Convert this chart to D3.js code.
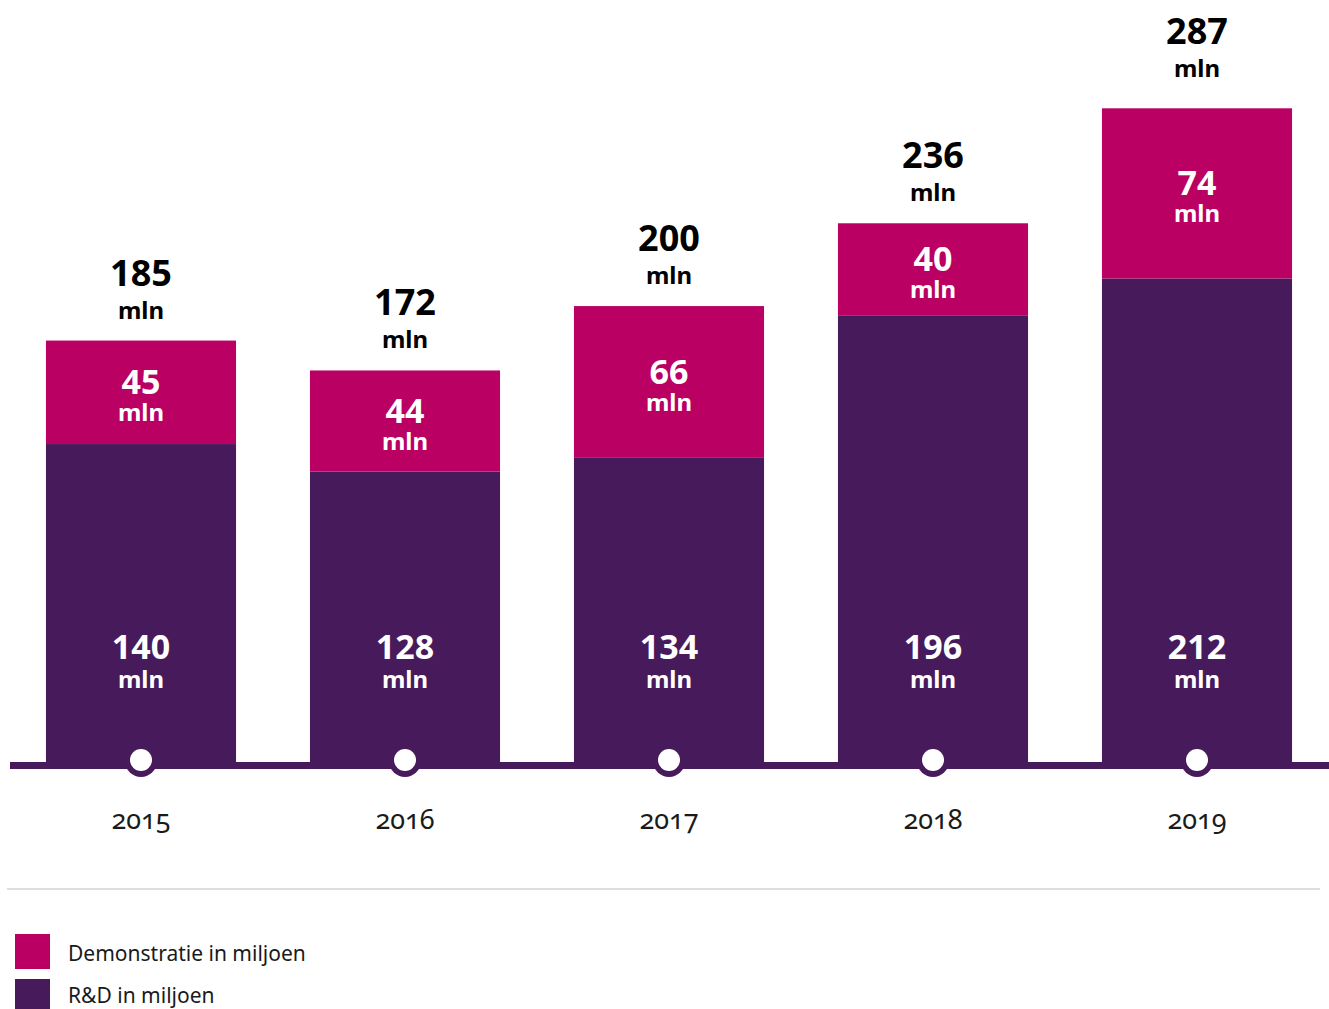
<!DOCTYPE html>
<html>
<head>
<meta charset="utf-8">
<script src="https://cdn.jsdelivr.net/npm/d3@7"></script>
<style>
  body { margin: 0; background: #fff; }
  text { font-family: "Noto Sans", "Open Sans", sans-serif; }
</style>
</head>
<body>
<div id="vizDiv"></div>
<script>
var width = 1329
var height = 1009

var years = ["2015", "2016", "2017", "2018", "2019"]
var rdValues = [140, 128, 134, 196, 212]
var demoValues = [45, 44, 66, 40, 74]
var totals = [185, 172, 200, 236, 287]
var legendLabels = ["Demonstratie in miljoen", "R&D in miljoen"]

var demoColor = "#ba0063"
var rdColor = "#461a5b"

var baseline = 766

var svg = d3.select("#vizDiv")
  .append("svg")
  .attr("width", width)
  .attr("height", height)

var x = d3.scaleBand()
  .domain(years)
  .range([9, 1329])
  .paddingInner(0.28)
  .paddingOuter(0.14)

var y = d3.scaleLinear()
  .domain([0, 287])
  .range([baseline, 106])

// R&D segments
svg.selectAll(".rd")
  .data(years)
  .enter().append("rect")
  .attr("x", d => x(d))
  .attr("width", x.bandwidth())
  .attr("y", (d, i) => y(rdValues[i]))
  .attr("height", (d, i) => baseline - y(rdValues[i]))
  .attr("fill", rdColor)

// demonstratie segments
svg.selectAll(".demo")
  .data(years)
  .enter().append("rect")
  .attr("x", d => x(d))
  .attr("width", x.bandwidth())
  .attr("y", (d, i) => y(rdValues[i] + demoValues[i]))
  .attr("height", (d, i) => y(rdValues[i]) - y(rdValues[i] + demoValues[i]))
  .attr("fill", demoColor)

// axis line
svg.append("line")
  .attr("x1", 10).attr("x2", 1329)
  .attr("y1", 765.5).attr("y2", 765.5)
  .attr("stroke", rdColor)
  .attr("stroke-width", 7)

// tick markers + year labels
years.forEach(function(d) {
  var cx = x(d) + x.bandwidth() / 2
  svg.append("circle").attr("cx", cx).attr("cy", 761).attr("r", 16).attr("fill", rdColor)
  svg.append("circle").attr("cx", cx).attr("cy", 760).attr("r", 11).attr("fill", "#fff")
  svg.append("text")
    .attr("x", cx).attr("y", 829)
    .attr("text-anchor", "middle")
    .style("font-size", "27px")
    .style("font-variant-numeric", "oldstyle-nums")
    .style("font-feature-settings", "'onum' 1")
    .attr("fill", "#1a1a1a")
    .text(d)
})

// value labels
years.forEach(function(d, i) {
  var cx = x(d) + x.bandwidth() / 2
  var top = y(totals[i])
  var extra = i == 4 ? 7 : 0
  svg.append("text").attr("x", cx).attr("y", top - 55 - extra)
    .attr("text-anchor", "middle").style("font-size", "36px").style("font-weight", "bold")
    .attr("fill", "#000").text(totals[i])
  svg.append("text").attr("x", cx).attr("y", top - 22 - extra)
    .attr("text-anchor", "middle").style("font-size", "24px").style("font-weight", "bold")
    .attr("fill", "#000").text("mln")

  var mid = (y(rdValues[i] + demoValues[i]) + y(rdValues[i])) / 2 + 4
  svg.append("text").attr("x", cx).attr("y", mid - 2)
    .attr("text-anchor", "middle").style("font-size", "34px").style("font-weight", "bold")
    .attr("fill", "#fff").text(demoValues[i])
  svg.append("text").attr("x", cx).attr("y", mid + 25)
    .attr("text-anchor", "middle").style("font-size", "24px").style("font-weight", "bold")
    .attr("fill", "#fff").text("mln")

  svg.append("text").attr("x", cx).attr("y", 659)
    .attr("text-anchor", "middle").style("font-size", "34px").style("font-weight", "bold")
    .attr("fill", "#fff").text(rdValues[i])
  svg.append("text").attr("x", cx).attr("y", 688)
    .attr("text-anchor", "middle").style("font-size", "24px").style("font-weight", "bold")
    .attr("fill", "#fff").text("mln")
})

// separator
svg.append("line")
  .attr("x1", 7).attr("x2", 1320)
  .attr("y1", 889).attr("y2", 889)
  .attr("stroke", "#dddddd")
  .attr("stroke-width", 2)

// legend
var legendColors = [demoColor, rdColor]
legendLabels.forEach(function(l, i) {
  svg.append("rect").attr("x", 15).attr("y", 934 + i * 45)
    .attr("width", 35).attr("height", i == 0 ? 35 : 30).attr("fill", legendColors[i])
  svg.append("text").attr("x", 68).attr("y", 961 + i * 42)
    .style("font-size", "21px").attr("fill", "#1a1a1a").text(l)
})
</script>
</body>
</html>
